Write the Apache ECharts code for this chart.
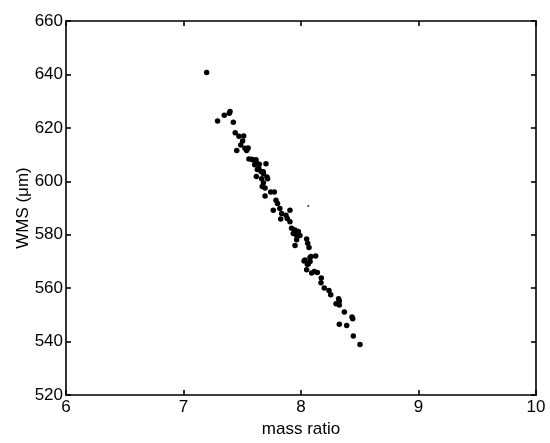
<!DOCTYPE html>
<html><head><meta charset="utf-8">
<script src="https://cdn.jsdelivr.net/npm/echarts@6/dist/echarts.min.js"></script>
<style>html,body{margin:0;padding:0;background:#fff}#c{width:550px;height:443px}</style>
</head><body><div id="c"></div>
<script>
const massRatio = [7.197,7.29,7.347,7.39,7.396,7.424,7.44,7.472,7.512,7.503,7.487,7.453,7.523,7.537,7.55,7.557,7.58,7.617,7.645,7.702,7.606,7.628,7.66,7.62,7.68,7.71,7.593,7.62,7.641,7.678,7.665,7.716,7.68,7.67,7.694,7.742,7.773,7.694,7.787,7.80,7.764,7.82,7.906,7.835,7.872,7.827,7.883,7.906,7.92,7.949,7.977,7.934,7.963,7.991,8.048,7.963,7.949,8.057,8.068,8.085,8.125,8.034,8.077,8.054,8.026,8.077,8.062,8.048,8.091,8.113,8.139,8.173,8.17,8.198,8.238,8.253,8.32,8.326,8.298,8.326,8.369,8.434,8.44,8.326,8.389,8.445,8.502];
const wms = [640.7,622.6,624.7,625.5,626.1,622.1,618.2,616.9,617.0,615.1,613.6,611.5,612.4,611.5,612.5,608.4,608.3,608.1,606.4,606.6,606.2,604.4,603.7,601.8,602.8,601.6,608.0,606.9,604.8,603.6,601.0,601.0,599.5,598.1,597.5,596.0,596.0,594.5,592.9,591.7,589.2,589.8,589.2,588.0,587.3,585.9,586.1,584.9,582.4,581.8,581.2,580.5,579.7,579.7,578.4,578.1,576.0,576.8,575.2,571.9,572.1,570.6,570.0,569.0,570.2,571.5,569.1,566.9,565.7,566.3,565.9,563.8,562.0,560.1,559.1,557.6,556.1,555.2,554.2,553.7,551.1,549.2,548.6,546.5,546.0,542.1,538.9];
const outlierX = [8.062];
const outlierY = [590.8];
const xTicks = [6,7,8,9,10];
const yTicks = [520,540,560,580,600,620,640,660];

const pts = massRatio.map((x,i)=>[x,wms[i]]);
const outPts = outlierX.map((x,i)=>[x,outlierY[i]]);
const font = 'Liberation Sans, Arial, Helvetica, sans-serif';
const lineStyle = {color:'#000', width:1.6};
function xAxis(pos, show){
  return {type:'value', position:pos, min:xTicks[0], max:xTicks[xTicks.length-1], interval:1,
    name: show ? 'mass ratio' : '', nameLocation:'middle', nameGap:25,
    nameTextStyle:{color:'#000', fontSize:17, fontFamily:font},
    axisLine:{show:true, onZero:false, lineStyle},
    axisTick:{show:true, inside:true, length:5, lineStyle},
    axisLabel:{show:show, color:'#000', fontSize:17, fontFamily:font, margin:4},
    splitLine:{show:false}};
}
function yAxis(pos, show){
  return {type:'value', position:pos, min:yTicks[0], max:yTicks[yTicks.length-1], interval:20,
    name: show ? 'WMS (\u03bcm)' : '', nameLocation:'middle', nameGap:34, nameRotate:90,
    nameMoveOverlap:false,
    nameTextStyle:{color:'#000', fontSize:17, fontFamily:font},
    axisLine:{show:true, onZero:false, lineStyle},
    axisTick:{show:true, inside:true, length:5, lineStyle},
    axisLabel:{show:show, color:'#000', fontSize:17, fontFamily:font, margin:3},
    splitLine:{show:false}};
}
const chart = echarts.init(document.getElementById('c'), null, {renderer:'canvas'});
chart.setOption({
  animation:false,
  backgroundColor:'#fff',
  grid:{left:66, top:21, width:470, height:377, containLabel:false},
  xAxis:[xAxis('bottom', true), xAxis('top', false)],
  yAxis:[yAxis('left', true), yAxis('right', false)],
  series:[
    {type:'scatter', data:pts, symbol:'circle', symbolSize:5.5, itemStyle:{color:'#000', opacity:1}},
    {type:'scatter', data:outPts, symbol:'circle', symbolSize:2, itemStyle:{color:'#333', opacity:1}}
  ]
});
</script></body></html>
